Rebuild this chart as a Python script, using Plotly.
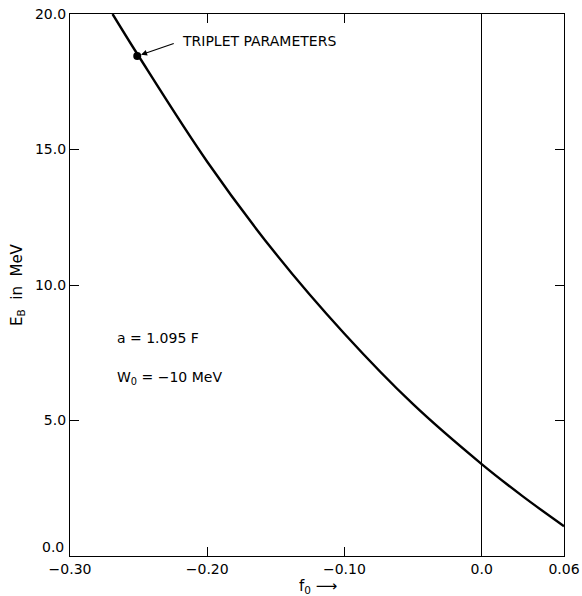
import plotly.graph_objects as go

# Data
f0 = [-0.269, -0.25, -0.20, -0.15, -0.10, -0.05, 0.0, 0.03, 0.06]
eb = [20.0, 18.45, 14.55, 11.15, 8.2, 5.6, 3.39, 2.2, 1.10]
triplet_f0 = [-0.251]
triplet_eb = [18.45]

x_tickvals = [-0.30, -0.20, -0.10, 0.0, 0.06]
x_ticktext = ["\u22120.30", "\u22120.20", "\u22120.10", "0.0", "0.06"]
y_tickvals = [0, 5, 10, 15, 20]
y_ticktext = ["", "5.0", "10.0", "15.0", "20.0"]

FONT = "DejaVu Sans"
PL, PR, PT, PB = 70, 564, 14, 556  # plot area in pixels
W, H = 582, 596

fig = go.Figure()
fig.add_trace(go.Scatter(x=f0, y=eb, mode="lines", line=dict(color="black", width=2.4, shape="spline"),
                         showlegend=False, hoverinfo="skip", cliponaxis=True))
fig.add_trace(go.Scatter(x=triplet_f0, y=triplet_eb, mode="markers",
                         marker=dict(color="black", size=8), showlegend=False))

fig.update_layout(
    width=W, height=H,
    margin=dict(l=PL, r=W - PR, t=PT, b=H - PB, autoexpand=False),
    paper_bgcolor="white", plot_bgcolor="white",
    font=dict(family=FONT, size=14, color="black"),
    xaxis=dict(range=[-0.30, 0.06], tickvals=x_tickvals, ticktext=x_ticktext, automargin=False,
               showgrid=False, showline=True, linecolor="black", linewidth=1.2, mirror="ticks",
               ticks="inside", ticklen=9, tickcolor="black", tickwidth=1,
               zeroline=True, zerolinecolor="black", zerolinewidth=1.2,
               tickfont=dict(family=FONT, size=14)),
    yaxis=dict(range=[0, 20], tickvals=y_tickvals, ticktext=y_ticktext, automargin=False,
               showgrid=False, showline=True, linecolor="black", linewidth=1.2, mirror="ticks",
               ticks="inside", ticklen=9, tickcolor="black", tickwidth=1,
               zeroline=False, tickfont=dict(family=FONT, size=14)),
)


def px_x(p):
    return (p - PL) / (PR - PL)


def px_y(p):
    return (PB - p) / (PB - PT)


# arrow to the triplet point
fig.add_annotation(x=-0.251, y=18.45, xref="x", yref="y", ax=38, ay=-13,
                   text="", showarrow=True, arrowhead=2, arrowsize=1, arrowwidth=1.2, arrowcolor="black",
                   standoff=4)

annots = [
    dict(text="TRIPLET PARAMETERS", px=180, py=41),
    dict(text="a = 1.095 F", px=115, py=338),
    dict(text="W<sub>0</sub> = \u221210 MeV", px=115, py=378),
]
for a in annots:
    fig.add_annotation(x=px_x(a["px"]), y=px_y(a["py"]), xref="paper", yref="paper", text=a["text"],
                       showarrow=False, xanchor="left", yanchor="middle", font=dict(size=14))

# y "0.0" label sits slightly above the axis in the reference
fig.add_annotation(x=px_x(66), y=px_y(547), xref="paper", yref="paper", text="0.0", showarrow=False,
                   xanchor="right", yanchor="middle", font=dict(size=14))

# axis titles
fig.add_annotation(x=px_x(297), y=px_y(586), xref="paper", yref="paper", text="f<sub>0</sub> \u27f6",
                   showarrow=False, xanchor="left", yanchor="middle", font=dict(size=15))
fig.add_annotation(x=px_x(17), y=px_y(285), xref="paper", yref="paper", text="E<sub>B</sub>  in  MeV",
                   showarrow=False, textangle=-90, xanchor="center", yanchor="middle", font=dict(size=15))

fig.write_html("out.html", config={"displayModeBar": False},
               post_script="document.body.style.margin='0';document.body.style.overflow='hidden';")
